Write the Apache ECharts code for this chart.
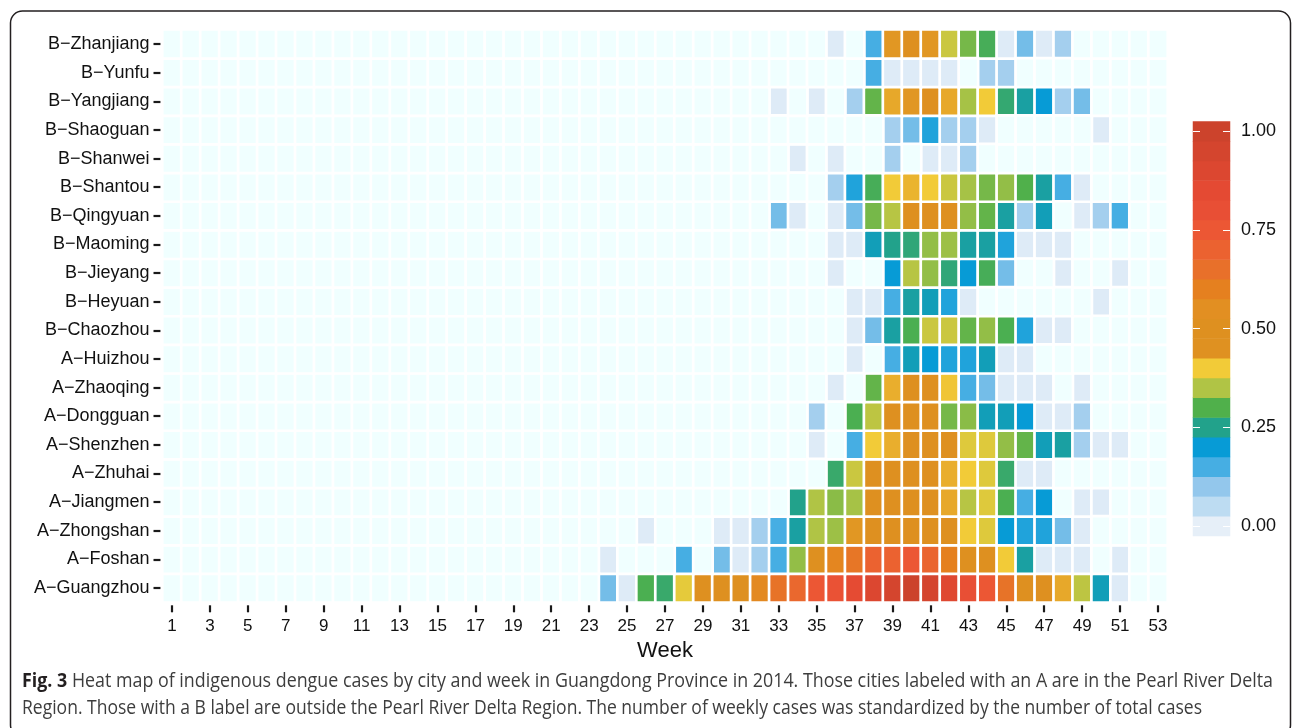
<!DOCTYPE html>
<html>
<head>
<meta charset="utf-8">
<script src="https://cdn.jsdelivr.net/npm/echarts@6/dist/echarts.min.js"></script>
<style>
  html, body { margin: 0; padding: 0; background: #fff; }
  #chart { width: 1292px; height: 728px; }
</style>
</head>
<body>
<div id="chart"></div>
<script>
const _ = null;
// Week tick labels 1..53
const weekLabels = Array.from({ length: 53 }, (v, i) => String(i + 1));
// First week held in each city array (weeks 24..53, 30 values each)
const FIRST_WEEK = 24;

// Standardized weekly cases (weekly cases / total cases), weeks 24..53
const guangzhou = [.12,.01,.295,.275,.39,.5,.5,.5,.57,.64,.68,.75,.78,.84,.90,.95,1.0,.95,.88,.80,.75,.64,.5,.5,.43,.36,.22,.01,_,_];
const foshan    = [.01,_,_,_,.15,_,.12,.01,.08,.15,.335,.5,.58,.63,.70,.70,.75,.69,.60,.5,.5,.40,.235,.01,.01,.01,_,.01,_,_];
const zhongshan = [_,_,.01,_,_,_,.01,.01,.08,.15,.235,.35,.34,.445,.5,.5,.5,.5,.5,.40,.385,.20,.18,.18,.12,.01,_,_,_,_];
const jiangmen  = [_,_,_,_,_,_,_,_,_,_,.25,.35,.33,.345,.5,.5,.5,.5,.43,.355,.385,.295,.15,.20,_,.01,.01,_,_,_];
const zhuhai    = [_,_,_,_,_,_,_,_,_,_,_,_,.275,.37,.5,.5,.5,.5,.425,.40,.385,.275,.01,.01,_,_,_,_,_,_];
const shenzhen  = [_,_,_,_,_,_,_,_,_,_,_,.01,_,.15,.40,.425,.5,.5,.5,.385,.385,.335,.31,.22,.235,.08,.01,.01,_,_];
const dongguan  = [_,_,_,_,_,_,_,_,_,_,_,.08,_,.295,.36,.5,.5,.5,.32,.33,.22,.22,.20,.01,.01,.08,_,_,_,_];
const zhaoqing  = [_,_,_,_,_,_,_,_,_,_,_,_,.01,_,.31,.425,.5,.5,.405,.15,.12,.01,.01,.01,_,.01,_,_,_,_];
const huizhou   = [_,_,_,_,_,_,_,_,_,_,_,_,_,.01,_,.15,.22,.20,.18,.18,.22,.01,.01,_,_,_,_,_,_,_];
const chaozhou  = [_,_,_,_,_,_,_,_,_,_,_,_,_,.01,.12,.235,.295,.37,.37,.31,.335,.295,.18,.01,.01,_,_,_,_,_];
const heyuan    = [_,_,_,_,_,_,_,_,_,_,_,_,_,.01,.01,.15,.235,.22,.18,.01,_,_,_,_,_,_,.01,_,_,_];
const jieyang   = [_,_,_,_,_,_,_,_,_,_,_,_,.01,_,_,.20,.355,.335,.265,.20,.29,.12,_,_,.01,_,_,.01,_,_];
const maoming   = [_,_,_,_,_,_,_,_,_,_,_,_,.01,.01,.22,.25,.265,.335,.34,.235,.235,.18,.01,.01,.01,_,_,_,_,_];
const qingyuan  = [_,_,_,_,_,_,_,_,_,.12,.01,_,.01,.12,.32,.355,.5,.5,.5,.335,.31,.235,.08,.22,_,.01,.08,.15,_,_];
const shantou   = [_,_,_,_,_,_,_,_,_,_,_,_,.08,.18,.29,.40,.42,.40,.37,.345,.32,.335,.30,.235,.15,.01,_,_,_,_];
const shanwei   = [_,_,_,_,_,_,_,_,_,_,.01,_,.01,_,_,.08,_,.01,.01,.08,_,_,_,_,_,_,_,_,_,_];
const shaoguan  = [_,_,_,_,_,_,_,_,_,_,_,_,_,_,_,.08,.12,.18,.08,.08,.01,_,_,_,_,_,.01,_,_,_];
const yangjiang = [_,_,_,_,_,_,_,_,_,.01,_,.01,_,.08,.31,.43,.445,.5,.43,.345,.40,.27,.235,.20,.08,.12,_,_,_,_];
const yunfu     = [_,_,_,_,_,_,_,_,_,_,_,_,_,_,.15,.01,.01,.01,.01,_,.08,.08,_,_,_,_,_,_,_,_];
const zhanjiang = [_,_,_,_,_,_,_,_,_,_,_,_,.01,_,.15,.445,.5,.445,.37,.32,.29,.01,.12,.01,.08,_,_,_,_,_];

// Rows from bottom to top of the chart
const cityNames = ['A\u2212Guangzhou','A\u2212Foshan','A\u2212Zhongshan','A\u2212Jiangmen','A\u2212Zhuhai',
  'A\u2212Shenzhen','A\u2212Dongguan','A\u2212Zhaoqing','A\u2212Huizhou','B\u2212Chaozhou','B\u2212Heyuan',
  'B\u2212Jieyang','B\u2212Maoming','B\u2212Qingyuan','B\u2212Shantou','B\u2212Shanwei','B\u2212Shaoguan',
  'B\u2212Yangjiang','B\u2212Yunfu','B\u2212Zhanjiang'];
const cityValues = [guangzhou, foshan, zhongshan, jiangmen, zhuhai, shenzhen, dongguan, zhaoqing, huizhou,
  chaozhou, heyuan, jieyang, maoming, qingyuan, shantou, shanwei, shaoguan, yangjiang, yunfu, zhanjiang];

// Colour scale (0.00 .. 1.00 in steps of 0.05)
const palette = ['#E6EFF8','#BDDCF2','#93C7EC','#46AEE3','#079BD6','#22A28B','#50B04B','#B0C445','#F2CB38',
  '#DF9121','#DE9020','#E28F22','#E5801F','#E8702A','#EB6230','#EC5734','#E84F35','#E44A33','#DC4730','#D4452E','#CC432C'];
const legendLevels = palette.map((c, k) => (k * 0.05).toFixed(2));

const heatData = [];
const emptyData = [];
cityNames.forEach((name, r) => {
  const vals = cityValues[r];
  for (let w = 0; w < weekLabels.length; w++) {
    const idx = w + 1 - FIRST_WEEK;
    const v = idx >= 0 && idx < vals.length ? vals[idx] : null;
    if (v === null) emptyData.push([w, r, 0]);
    else heatData.push([w, r, v]);
  }
});
const legendData = legendLevels.map((l, k) => [0, k, Number(l)]);

// Caption
const capSize = 19.5;
const capFamily = '"Open Sans", "Noto Sans", sans-serif';
const capBold = 'Fig. 3';
const capLine1 = ' Heat map of indigenous dengue cases by city and week in Guangdong Province in 2014. Those cities labeled with an A are in the Pearl River Delta';
const capLine2 = 'Region. Those with a B label are outside the Pearl River Delta Region. The number of weekly cases was standardized by the number of total cases';
function measure(text, font) {
  const ctx = document.createElement('canvas').getContext('2d');
  ctx.font = font;
  return ctx.measureText(text).width;
}
const w1 = measure(capBold, 'bold ' + capSize + 'px ' + capFamily) + measure(capLine1, capSize + 'px ' + capFamily);
const w2 = measure(capLine2, capSize + 'px ' + capFamily);
const capScale1 = (1273 - 22) / w1;
const capScale2 = (1202 - 22) / w2;

const axisFont = '"Liberation Sans", Arial, Helvetica, sans-serif';
const hiddenLine = { show: true, lineStyle: { color: 'rgba(0,0,0,0)', width: 0 } };
const chart = echarts.init(document.getElementById('chart'), null, { renderer: 'canvas' });
chart.setOption({
  animation: false,
  backgroundColor: '#fff',
  grid: [
    { left: 162.5, top: 29.7, width: 1005, height: 572.6, outerBoundsMode: 'none' },
    { left: 1193, top: 121.4, width: 37, height: 414.5, outerBoundsMode: 'none' }
  ],
  xAxis: [
    {
      gridIndex: 0, type: 'category', data: weekLabels, offset: 3,
      axisLine: hiddenLine,
      axisTick: { show: true, alignWithLabel: true, interval: 1, length: 7, lineStyle: { color: '#1a1a1a', width: 2.2 } },
      axisLabel: { interval: 1, fontSize: 17, color: '#111', margin: 13, fontFamily: axisFont },
      splitLine: { show: false },
      name: 'Week', nameLocation: 'middle', nameGap: 26,
      nameTextStyle: { fontSize: 22, color: '#111', fontFamily: axisFont }
    },
    { gridIndex: 1, type: 'category', data: ['v'], show: false }
  ],
  yAxis: [
    {
      gridIndex: 0, type: 'category', data: cityNames, offset: 2,
      axisLine: hiddenLine,
      axisTick: { show: true, alignWithLabel: true, length: 7, lineStyle: { color: '#1a1a1a', width: 2.2 } },
      axisLabel: { fontSize: 18, color: '#111', margin: 11, fontFamily: axisFont },
      splitLine: { show: false }
    },
    {
      gridIndex: 1, type: 'category', data: legendLevels, position: 'right', z: 10,
      axisLine: hiddenLine,
      axisTick: { show: true, inside: true, alignWithLabel: true, interval: (i) => i % 5 === 0, length: 7, lineStyle: { color: '#fff', width: 1 } },
      axisLabel: { interval: (i) => i % 5 === 0, fontSize: 18, color: '#111', margin: 11, fontFamily: axisFont },
      splitLine: { show: false }
    },
    {
      gridIndex: 1, type: 'category', data: legendLevels, position: 'left', z: 10,
      axisLine: hiddenLine,
      axisTick: { show: true, inside: true, alignWithLabel: true, interval: (i) => i % 5 === 0, length: 7, lineStyle: { color: '#fff', width: 1 } },
      axisLabel: { show: false },
      splitLine: { show: false }
    }
  ],
  visualMap: {
    type: 'continuous', show: false, min: 0, max: 1, dimension: 2,
    seriesIndex: [0, 2],
    inRange: { color: palette }
  },
  series: [
    {
      type: 'heatmap', xAxisIndex: 0, yAxisIndex: 0, data: heatData,
      itemStyle: { borderColor: '#fff', borderWidth: 2.7 },
      emphasis: { disabled: true }
    },
    {
      type: 'heatmap', xAxisIndex: 0, yAxisIndex: 0, data: emptyData,
      itemStyle: { color: '#F0FFFF', borderColor: '#fff', borderWidth: 2.7 },
      emphasis: { disabled: true }
    },
    {
      type: 'heatmap', xAxisIndex: 1, yAxisIndex: 1, data: legendData,
      itemStyle: { borderWidth: 0 },
      emphasis: { disabled: true },
      z: 1
    }
  ],
  graphic: [
    {
      type: 'rect', silent: true,
      shape: { x: 10.5, y: 11, width: 1280, height: 726, r: 12 },
      style: { fill: 'none', stroke: '#231f20', lineWidth: 1.5 }
    },
    {
      type: 'text', x: 22, y: 681, scaleX: capScale1, silent: true,
      style: {
        text: '{b|' + capBold + '}{n|' + capLine1 + '}',
        verticalAlign: 'middle',
        rich: {
          b: { fontWeight: 'bold', fontSize: capSize, fontFamily: capFamily, fill: '#231f20' },
          n: { fontSize: capSize, fontFamily: capFamily, fill: '#3d3d3d' }
        }
      }
    },
    {
      type: 'text', x: 22, y: 708, scaleX: capScale2, silent: true,
      style: {
        text: capLine2, verticalAlign: 'middle',
        fontSize: capSize, fontFamily: capFamily, fill: '#3d3d3d'
      }
    }
  ]
});
</script>
</body>
</html>
